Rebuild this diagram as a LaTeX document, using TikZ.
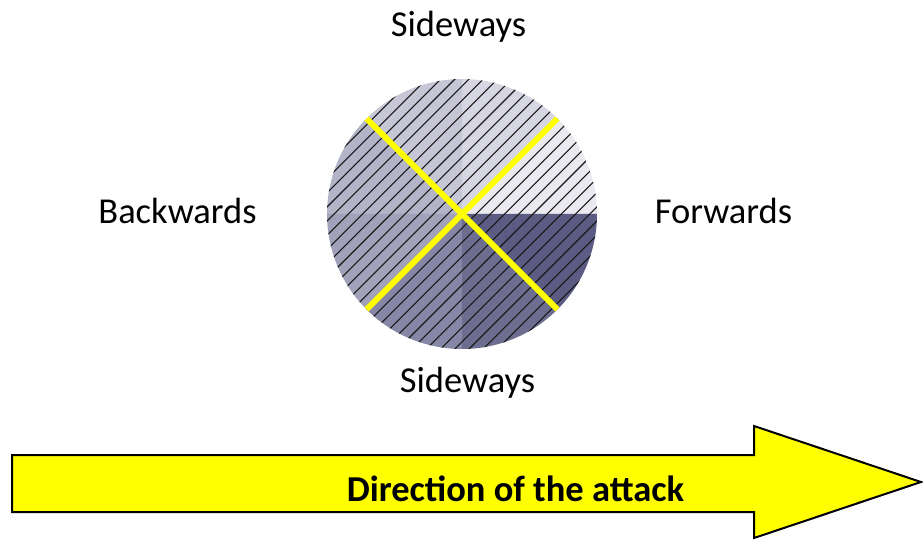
\documentclass[tikz,border=0pt]{standalone}
\usepackage{fontspec}
\setmainfont{Carlito}
\usetikzlibrary{calc}
\definecolor{pureyellow}{RGB}{255,255,0}
\begin{document}
\begin{tikzpicture}[x=1pt,y=1pt,
  label/.style={font=\fontsize{36.5}{40}\selectfont, anchor=base, inner sep=0pt},
  hatch/.style={black!90, line width=1.1pt},
  diag/.style={pureyellow, line width=6pt},
  bigarrow/.style={fill=pureyellow, draw=black, line width=2pt, line join=miter}]
\useasboundingbox (0,0) rectangle (923,539);
\coordinate (c) at (462,325);
\def\rad{135}
% eight shaded sectors of the disc
\foreach \a/\col in {0/E9E9EF,45/D7D7E3,90/C6C6D6,135/B4B4C8,180/A1A1B9,225/8686A6,270/6D6D8F,315/5B5B83}{
  \definecolor{sec}{HTML}{\col}
  \fill[sec] (c) -- ++(\a:\rad) arc[start angle=\a, end angle=\a+45, radius=\rad] -- cycle;
}
% diagonal hatching clipped to the disc
\begin{scope}
  \clip (c) circle[radius=\rad];
  \foreach \k in {-22,...,22}{
    \draw[hatch] ($(c)+(\k*14.2-200,-200)$) -- ($(c)+(\k*14.2+200,200)$);
  }
\end{scope}
% yellow cross
\path (c) ++(135:\rad) coordinate (d1);
\path (c) ++(-45:\rad) coordinate (d2);
\path (c) ++(45:\rad) coordinate (d3);
\path (c) ++(225:\rad) coordinate (d4);
\draw[diag] (d1) -- (d2);
\draw[diag] (d3) -- (d4);
% labels
\node[label] (top) at (458.5,502) {Sideways};
\node[label] (bot) at (467.5,147) {Sideways};
\node[label] (back) at (177.5,316) {Backwards};
\node[label] (fwd) at (723.5,316) {Forwards};
% attack arrow
\draw[bigarrow] (12,84) -- (754,84) -- (754,113) -- (921,57) -- (754,1) -- (754,27) -- (12,27) -- cycle;
\node[label, font=\bfseries\fontsize{36.5}{40}\selectfont] (dir) at (515.5,38) {Direction of the attack};
\end{tikzpicture}
\end{document}
